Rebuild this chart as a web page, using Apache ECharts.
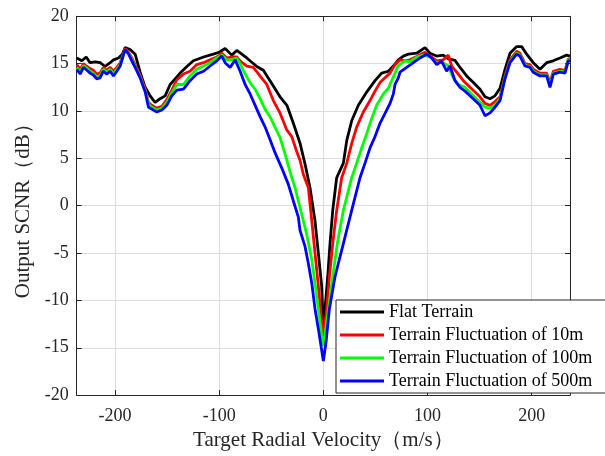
<!DOCTYPE html>
<html><head><meta charset="utf-8">
<script src="https://cdn.jsdelivr.net/npm/echarts@6/dist/echarts.min.js"></script>
<style>html,body{margin:0;padding:0;background:#fff}#c{width:605px;height:456px}</style>
</head><body><div id="c"></div>
<script>
const seriesNames = ['Flat Terrain','Terrain Fluctuation of 10m','Terrain Fluctuation of 100m','Terrain Fluctuation of 500m'];
const xTicks = [-200,-100,0,100,200];
const yTicks = [-20,-15,-10,-5,0,5,10,15,20];

const flatV = [-236.7,-231.9,-227.7,-224,-219,-214.3,-209.5,-204.7,-201.5,-196.7,-193,-190.3,-185.5,-180.7,-175.9,-171.1,-166.3,-161.5,-156.7,-151.9,-147.1,-142.3,-137.5,-131,-124.8,-115,-105.6,-100,-94.3,-87.9,-83.1,-73.5,-63.9,-57.6,-51.2,-41.6,-35,-28.8,-22.4,-17.6,-12.8,-8,-4.8,-1.6,0,1.6,4.2,6.4,9,12.8,19.2,22.5,27.3,33.6,41.6,49.6,56,62.4,67.2,72,76.8,81.6,89.6,97.6,102.4,108.8,115,120,126.4,131.2,137.6,144,150.4,155.2,160,164.8,169.6,174.4,179.2,185.6,190.4,195.2,201.5,208,214.4,220.7,227.2,233.6,236.8];
const flatS = [15.6,15.3,15.7,15.1,15.2,15.1,14.7,15.1,15.4,15.6,16.0,16.7,16.5,16.0,14.1,12.5,11.6,10.9,11.3,11.6,12.8,13.4,14.0,14.7,15.3,15.7,16.0,16.2,16.6,15.9,16.4,15.6,14.7,14.3,13.2,11.5,10.6,8.7,6.6,4.4,1.9,-1.6,-5.0,-8.5,-12.7,-10.9,-7.5,-4.0,-0.5,2.95,4.5,6.9,9.0,10.6,12.0,13.2,14.0,14.2,14.75,15.4,15.8,16.0,16.1,16.7,16.1,15.8,15.9,15.5,15.35,14.6,13.7,13.0,12.3,11.5,11.3,11.6,12.4,14.4,16.1,16.8,16.8,16.0,15.1,14.4,15.1,15.3,15.6,15.9,15.8];

const f10V = [-236.7,-233.5,-230.3,-227,-224,-220.8,-217.6,-214.4,-211.2,-208,-204.7,-201.5,-198.3,-195,-190.3,-187,-183.9,-180.7,-175.9,-171,-167.9,-164.7,-159.9,-155,-150.3,-145.5,-140.7,-134.3,-128,-121.5,-115,-108.7,-102.3,-97.5,-92.7,-87.9,-83.1,-80,-73.5,-67.2,-60.8,-54.3,-48,-41.6,-35.1,-30.3,-25.5,-22.4,-19.2,-14.4,-11.1,-8,-4.8,-1.6,0,3.2,5.8,9,12.8,17.6,22.5,27.3,32,38.4,44.8,49.6,54.4,59.2,64,68.8,73.6,78.4,83.2,89.6,97.6,104,108.8,115,120,123.2,128,134.4,140.8,145.6,150.4,155.2,160,164.8,169.6,174.4,179.2,185.6,188.8,193.6,198.4,201.5,208,214.4,217.6,220.8,227.2,232,235.2,236.8];
const f10S = [14.9,14.4,15.0,14.7,14.5,14.3,13.9,14.0,14.6,14.3,14.6,14.2,14.6,15.1,16.6,16.2,15.6,14.9,13.8,12.3,10.9,10.6,10.3,10.5,11.2,12.2,13.3,13.9,14.2,14.9,15.1,15.4,15.7,16.1,15.6,15.7,15.7,15.3,14.75,14.6,13.7,12.8,11.1,9.8,8.0,7.3,5.7,4.8,3.3,1.9,-1.6,-5.0,-8.5,-12.3,-14.0,-10.9,-7.5,-4.0,-0.5,2.95,4.5,6.6,8.3,9.9,11.1,12.1,13.0,13.5,14.0,14.9,15.4,15.3,15.4,15.75,16.2,15.7,15.3,15.4,15.9,14.75,14.1,13.2,12.5,12.0,11.5,10.8,10.6,11.0,11.5,13.7,15.4,16.3,16.1,15.0,14.9,14.4,14.0,14.0,13.0,14.2,14.4,14.3,15.5,15.5];

const f100V = [-236.7,-233.5,-230.3,-227,-224,-220.8,-217.6,-214.4,-211.2,-208,-204.7,-201.5,-198.3,-195,-190.3,-187,-183.9,-180.7,-175.9,-171,-167.9,-164.7,-159.9,-155,-150.3,-145.5,-140.7,-134.3,-128,-121.5,-115,-108.7,-102.3,-97.5,-92.7,-87.9,-83.1,-80,-75,-70.3,-65.5,-60.7,-56,-51.2,-46.4,-41.6,-36.8,-32,-27.2,-24,-20.8,-16,-11.1,-8,-4.8,-1.6,0,1.6,4.8,9,13.4,19.2,27.2,32,36.8,41.6,46.4,51.2,57.6,62.4,67.2,72,78.4,83.2,89.6,96,102.4,108.8,115,120,124.8,129.6,136,142.4,148.8,155.2,160,164.8,169.6,174.4,179.2,185.6,188.8,193.6,198.4,201.5,208,214.4,217.6,220.8,227.2,232,235.2,236.8];
const f100S = [14.6,14.1,14.8,14.5,14.2,14.0,13.6,13.7,14.4,14.1,14.4,13.9,14.4,14.9,16.5,16.1,15.4,14.7,13.6,12.1,10.7,10.4,10.1,10.3,10.9,11.9,12.8,12.8,13.7,14.4,14.75,15.1,15.6,15.9,15.4,15.4,15.6,15.0,13.9,13.0,12.3,11.3,10.2,9.4,8.3,7.2,5.5,3.6,1.9,0.5,-0.9,-3.0,-5.7,-8.2,-10.9,-13.7,-14.8,-13.6,-10.9,-7.5,-4.0,-0.5,2.95,4.5,6.1,7.6,9.2,10.6,11.8,12.4,13.6,14.8,15.3,15.2,15.7,15.9,15.7,15.1,15.1,14.75,13.5,12.8,12.5,11.8,11.1,10.4,10.3,10.6,11.3,13.5,15.2,16.1,15.9,14.85,14.7,14.2,13.8,13.8,12.7,14.0,14.2,14.1,15.4,15.4];

const f500V = [-236.7,-233.5,-230.3,-227,-224,-220.8,-217.6,-214.4,-211.2,-208,-204.7,-201.5,-198.3,-195,-190.3,-187,-183.9,-180.7,-175.9,-171,-167.9,-164.7,-159.9,-155,-150.3,-145.5,-140.7,-134.3,-128,-121.5,-115,-108.7,-102.3,-97.5,-94.3,-89.5,-84.7,-79.9,-75.1,-70.3,-65.5,-60.7,-55.9,-51.2,-46.4,-40,-33.6,-28.8,-24,-22.4,-17.6,-14.4,-11.1,-8,-4.8,0,2.6,5.8,11.2,19.2,27.2,35.2,40,44.8,49.6,54.4,60.8,64,67.2,68.8,72,73.6,80,86.4,92.8,99.2,104,108.8,113.6,118.4,121.6,126.4,131.2,136,140.8,145.6,150.4,155.2,160,164.8,169.6,174.4,179.2,185.6,188.8,193.6,198.4,201.5,208,214.4,217.6,220.8,227.2,232,235.2,236.8];
const f500S = [14.4,13.9,14.6,14.3,14.0,13.8,13.4,13.5,14.2,13.9,14.2,13.7,14.2,14.75,16.5,16.0,15.3,14.6,13.5,12.0,10.4,10.2,9.9,10.1,10.6,11.6,12.2,12.3,13.2,13.9,14.2,14.75,15.3,15.8,15.1,14.6,15.4,14.2,12.8,11.8,10.6,9.4,8.3,7.0,5.6,4.0,2.25,0.5,-1.2,-2.6,-4.3,-6.1,-8.2,-10.9,-13.0,-16.4,-14.4,-10.9,-7.5,-4.0,-0.5,2.95,4.5,6.1,7.3,8.7,10.1,10.8,11.8,12.8,13.5,14.1,14.6,15.1,15.6,16.0,15.6,14.9,15.25,14.2,14.75,13.2,12.5,12.1,11.6,11.1,10.6,9.5,9.8,10.4,11.1,13.4,15.1,16.0,15.8,14.75,14.6,14.1,13.7,13.7,12.5,13.9,14.1,14.0,15.3,15.3];

const colors = ['#000000','#ff0000','#00ff00','#0000ff'];
const zip = (a,b)=>a.map((v,i)=>[v,b[i]]);
const dataSets = [zip(flatV,flatS),zip(f10V,f10S),zip(f100V,f100S),zip(f500V,f500S)];

const font = 'Liberation Serif, Times New Roman, serif';
const txt = '#262626';
const axisCol = '#262626';
const xMin = -236.8, xMax = 236.8;

const chart = echarts.init(document.getElementById('c'), null, {renderer:'canvas'});
const baseX = {
  type:'value', min:xMin, max:xMax,
  axisLine:{show:true, onZero:false, lineStyle:{color:axisCol,width:1}},
  axisTick:{show:true, inside:true, length:5, lineStyle:{color:axisCol}},
  splitLine:{show:false}
};
const baseY = {
  type:'value', min:-20, max:20, interval:5,
  axisLine:{show:true, onZero:false, lineStyle:{color:axisCol,width:1}},
  axisTick:{show:true, inside:true, length:5, lineStyle:{color:axisCol}},
  splitLine:{show:false}
};
chart.setOption({
  animation:false,
  color:colors,
  grid:{left:76.7, right:35, top:16.3, bottom:55.7, containLabel:false},
  xAxis:[
    Object.assign({}, baseX, {
      position:'bottom',
      name:'Target Radial Velocity（m/s）', nameLocation:'middle', nameGap:31,
      nameTextStyle:{fontFamily:font, fontSize:21, color:txt},
      axisLabel:{show:true, fontFamily:font, fontSize:18, color:txt, margin:12,
        showMinLabel:false, showMaxLabel:false,
        formatter:v=> xTicks.includes(Math.round(v)) && Math.abs(v-Math.round(v))<1e-6 ? String(v) : ''},
      splitLine:{show:true, lineStyle:{color:'#dedede', width:1}}
    }),
    Object.assign({}, baseX, {position:'top', axisLabel:{show:false}})
  ],
  yAxis:[
    Object.assign({}, baseY, {
      position:'left',
      name:'Output SCNR（dB）', nameLocation:'middle', nameGap:42,
      nameTextStyle:{fontFamily:font, fontSize:21, color:txt},
      axisLabel:{show:true, fontFamily:font, fontSize:18, color:txt, margin:8,
        formatter:v=> yTicks.includes(v) ? String(v) : ''},
      splitLine:{show:true, lineStyle:{color:'#dedede', width:1}}
    }),
    Object.assign({}, baseY, {position:'right', axisLabel:{show:false}})
  ],
  legend:{
    show:true, orient:'vertical', left:336, top:300,
    backgroundColor:'#ffffff', borderColor:'#262626', borderWidth:1,
    padding:[3,40,3,4], itemGap:5, itemWidth:44, itemHeight:3,
    icon:'rect',
    textStyle:{fontFamily:font, fontSize:18, color:'#000'},
    data:seriesNames
  },
  series: seriesNames.map((n,i)=>({
    name:n, type:'line', xAxisIndex:0, yAxisIndex:0,
    data:dataSets[i], showSymbol:false, symbol:'none',
    lineStyle:{width:2.8, color:colors[i]}, itemStyle:{color:colors[i]},
    z:2+i
  }))
});
</script></body></html>
